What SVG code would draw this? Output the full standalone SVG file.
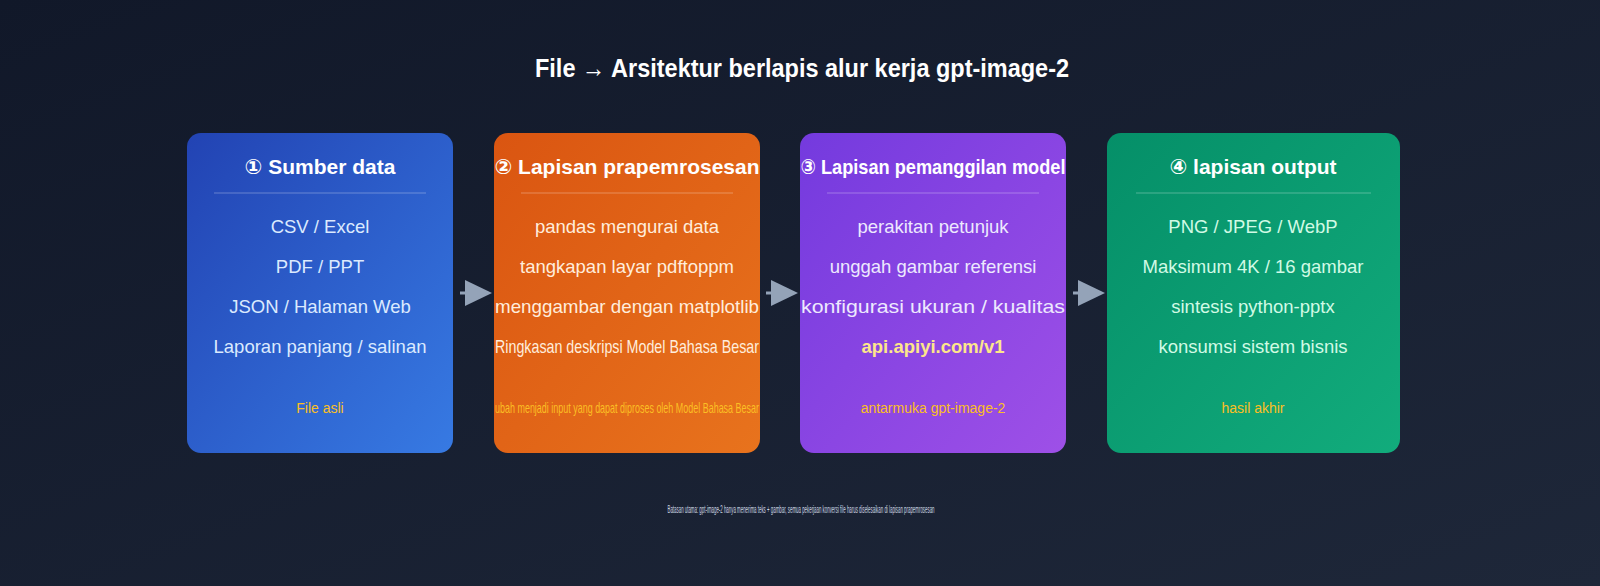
<svg xmlns="http://www.w3.org/2000/svg" width="1600" height="586" viewBox="0 0 1600 586">
  <defs>
    <linearGradient id="bg" x1="0" y1="0" x2="1" y2="1">
      <stop offset="0" stop-color="#111829"/>
      <stop offset="1" stop-color="#1e2739"/>
    </linearGradient>
    <linearGradient id="g1" x1="0" y1="0" x2="1" y2="1">
      <stop offset="0" stop-color="#2243b3"/>
      <stop offset="1" stop-color="#377ae3"/>
    </linearGradient>
    <linearGradient id="g2" x1="0" y1="0" x2="1" y2="1">
      <stop offset="0" stop-color="#da5511"/>
      <stop offset="1" stop-color="#e8731d"/>
    </linearGradient>
    <linearGradient id="g3" x1="0" y1="0" x2="1" y2="1">
      <stop offset="0" stop-color="#743ade"/>
      <stop offset="1" stop-color="#9e50e7"/>
    </linearGradient>
    <linearGradient id="g4" x1="0" y1="0" x2="1" y2="1">
      <stop offset="0" stop-color="#058f68"/>
      <stop offset="1" stop-color="#12ac7c"/>
    </linearGradient>
  </defs>
  <style>
    .title { font-family: "Liberation Sans", "DejaVu Sans", sans-serif; font-weight: bold; font-size: 26px; fill: #ffffff; }
    .head { font-family: "Liberation Sans", "DejaVu Sans", sans-serif; font-weight: bold; font-size: 21px; fill: #ffffff; text-anchor: middle; }
    .item { font-family: "Liberation Sans", Arial, sans-serif; font-size: 18.5px; text-anchor: middle; }
    .foot { font-family: "Liberation Sans", Arial, sans-serif; font-size: 14px; fill: #fbbf24; text-anchor: middle; }
    .div { stroke: #ffffff; stroke-opacity: 0.3; stroke-width: 1.2; }
    .c1 { fill: #dbeafe; }
    .c2 { fill: #ffeddc; }
    .c3 { fill: #ede9fe; }
    .c4 { fill: #d1fae5; }
    .api { font-weight: bold; fill: #fde68a; }
    .note { font-family: "Liberation Sans", Arial, sans-serif; font-size: 10px; fill: #cbd5e1; text-anchor: middle; }
    .arrow line { stroke: #94a3b8; stroke-width: 3; }
    .arrow polygon { fill: #94a3b8; }
  </style>

  <rect x="0" y="0" width="1600" height="586" fill="url(#bg)"/>

  <text class="title" x="535" y="77" textLength="534" lengthAdjust="spacingAndGlyphs">File → Arsitektur berlapis alur kerja gpt-image-2</text>

  <g id="node-sumber-data">
    <rect x="187" y="133" width="266" height="320" rx="14" fill="url(#g1)"/>
    <text class="head" x="320" y="174">① Sumber data</text>
    <line class="div" x1="214" y1="193" x2="426" y2="193"/>
    <text class="item c1" x="320" y="233">CSV / Excel</text>
    <text class="item c1" x="320" y="273">PDF / PPT</text>
    <text class="item c1" x="320" y="313">JSON / Halaman Web</text>
    <text class="item c1" x="320" y="353">Laporan panjang / salinan</text>
    <text class="foot" x="320" y="413">File asli</text>
  </g>

  <g id="node-prapemrosesan">
    <rect x="494" y="133" width="266" height="320" rx="14" fill="url(#g2)"/>
    <text class="head" x="627" y="174" textLength="265" lengthAdjust="spacingAndGlyphs">② Lapisan prapemrosesan</text>
    <line class="div" x1="521" y1="193" x2="733" y2="193"/>
    <text class="item c2" x="627" y="233">pandas mengurai data</text>
    <text class="item c2" x="627" y="273">tangkapan layar pdftoppm</text>
    <text class="item c2" x="627" y="313" textLength="264" lengthAdjust="spacingAndGlyphs">menggambar dengan matplotlib</text>
    <text class="item c2" x="627" y="353" textLength="264" lengthAdjust="spacingAndGlyphs">Ringkasan deskripsi Model Bahasa Besar</text>
    <text class="foot" transform="translate(627,413) scale(0.64,1)" x="0" y="0">ubah menjadi input yang dapat diproses oleh Model Bahasa Besar</text>
  </g>

  <g id="node-pemanggilan-model">
    <rect x="800" y="133" width="266" height="320" rx="14" fill="url(#g3)"/>
    <text class="head" x="933" y="174" textLength="265" lengthAdjust="spacingAndGlyphs">③ Lapisan pemanggilan model</text>
    <line class="div" x1="827" y1="193" x2="1039" y2="193"/>
    <text class="item c3" x="933" y="233">perakitan petunjuk</text>
    <text class="item c3" x="933" y="273">unggah gambar referensi</text>
    <text class="item c3" x="933" y="313" textLength="264" lengthAdjust="spacingAndGlyphs">konfigurasi ukuran / kualitas</text>
    <text class="item api" x="933" y="353">api.apiyi.com/v1</text>
    <text class="foot" x="933" y="413">antarmuka gpt-image-2</text>
  </g>

  <g id="node-output">
    <rect x="1107" y="133" width="293" height="320" rx="14" fill="url(#g4)"/>
    <text class="head" x="1253" y="174">④ lapisan output</text>
    <line class="div" x1="1136" y1="193" x2="1371" y2="193"/>
    <text class="item c4" x="1253" y="233">PNG / JPEG / WebP</text>
    <text class="item c4" x="1253" y="273">Maksimum 4K / 16 gambar</text>
    <text class="item c4" x="1253" y="313">sintesis python-pptx</text>
    <text class="item c4" x="1253" y="353">konsumsi sistem bisnis</text>
    <text class="foot" x="1253" y="413">hasil akhir</text>
  </g>

  <g id="connectors">
    <g class="arrow">
      <line x1="460" y1="293" x2="467" y2="293"/>
      <polygon points="465,280 492,293 465,306"/>
    </g>
    <g class="arrow">
      <line x1="766" y1="293" x2="773" y2="293"/>
      <polygon points="771,280 798,293 771,306"/>
    </g>
    <g class="arrow">
      <line x1="1073" y1="293" x2="1080" y2="293"/>
      <polygon points="1078,280 1105,293 1078,306"/>
    </g>
  </g>

  <text class="note" x="801" y="513" textLength="267" lengthAdjust="spacingAndGlyphs">Batasan utama: gpt-image-2 hanya menerima teks + gambar, semua pekerjaan konversi file harus diselesaikan di lapisan prapemrosesan</text>
</svg>
